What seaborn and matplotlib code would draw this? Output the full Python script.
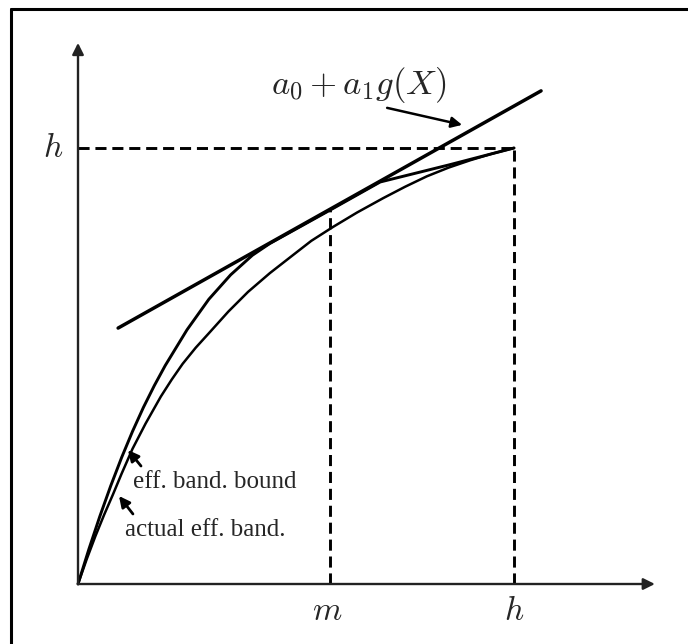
import matplotlib
matplotlib.use("Agg")
from matplotlib import pyplot as plt
from matplotlib.lines import Line2D
import seaborn as sns
import pandas as pd
import numpy as np

# values, in units of h
m_val = 0.579
h_val = 1.0

bound_x = [0, 0.025, 0.05, 0.075, 0.10, 0.125, 0.15, 0.175, 0.20, 0.25, 0.30, 0.35, 0.40, 0.44, 0.579, 0.693, 0.85, 1.0]
bound_y = [0, 0.080, 0.155, 0.225, 0.290, 0.350, 0.405, 0.455, 0.501, 0.583, 0.653, 0.709, 0.754, 0.781, 0.858, 0.922, 0.961, 1.0]

actual_x = [0, 0.02, 0.04, 0.06, 0.08, 0.10, 0.125, 0.155, 0.19, 0.215, 0.24, 0.27, 0.30, 0.345, 0.39, 0.44, 0.49,
            0.535, 0.585, 0.64, 0.70, 0.75, 0.80, 0.85, 0.90, 0.95, 1.0]
actual_y = [0, 0.057, 0.110, 0.159, 0.205, 0.253, 0.310, 0.368, 0.430, 0.469, 0.505, 0.542, 0.575, 0.625, 0.670,
            0.713, 0.752, 0.787, 0.819, 0.852, 0.885, 0.911, 0.935, 0.955, 0.972, 0.987, 1.0]

tangent_x = [0.092, 1.062]
tangent_y = [0.587, 1.131]
tangent_y_at_m = 0.858

x_axis_end = 1.323
y_axis_end = 1.241

bound = pd.DataFrame({"x": bound_x, "y": bound_y})
actual = pd.DataFrame({"x": actual_x, "y": actual_y})
tangent = pd.DataFrame({"x": tangent_x, "y": tangent_y})

sns.set_style("white")
plt.rcParams["mathtext.fontset"] = "cm"

fig = plt.figure(figsize=(6.88, 6.44), dpi=100)
ax = fig.add_axes([0, 0, 1, 1])
ax.set_xlim(-0.1789, 1.399)
ax.set_ylim(-0.1376, 1.3394)
ax.axis("off")

# curves
sns.lineplot(data=bound, x="x", y="y", sort=False, color="black", lw=2.1, ax=ax)
sns.lineplot(data=actual, x="x", y="y", sort=False, color="black", lw=1.8, ax=ax)
sns.lineplot(data=tangent, x="x", y="y", sort=False, color="black", lw=2.5, ax=ax)

# dashed guides
dash = dict(color="black", lw=2.1, linestyle=(0, (3.8, 2.0)))
ax.plot([0, h_val], [h_val, h_val], **dash)
ax.plot([h_val, h_val], [0, h_val], **dash)
ax.plot([m_val, m_val], [0, tangent_y_at_m], **dash)

# axes with arrow heads
ax.annotate("", xy=(x_axis_end, 0), xytext=(0, 0),
            arrowprops=dict(arrowstyle="-|>", lw=1.7, color="#222222", mutation_scale=17, shrinkA=0, shrinkB=0))
ax.annotate("", xy=(0, y_axis_end), xytext=(0, 0),
            arrowprops=dict(arrowstyle="-|>", lw=1.7, color="#222222", mutation_scale=17, shrinkA=0, shrinkB=0))

# labels
ax.text(m_val - 0.008, -0.06, "$m$", fontsize=24, ha="center", va="center")
ax.text(h_val, -0.06, "$h$", fontsize=24, ha="center", va="center")
ax.text(-0.057, h_val, "$h$", fontsize=24, ha="center", va="center")

ax.text(0.644, 1.144, "$a_0 + a_1 g(X)$", fontsize=25, ha="center", va="center")
ax.annotate("", xy=(0.881, 1.053), xytext=(0.709, 1.092),
            arrowprops=dict(arrowstyle="-|>", lw=1.8, color="black", mutation_scale=16, shrinkA=0, shrinkB=0))

serif = ["Liberation Serif", "DejaVu Serif"]
ax.text(0.126, 0.234, "eff. band. bound", fontsize=18, family=serif, ha="left", va="center")
ax.text(0.108, 0.124, "actual eff. band.", fontsize=18, family=serif, ha="left", va="center")
ax.annotate("", xy=(0.1147, 0.3073), xytext=(0.1445, 0.2706),
            arrowprops=dict(arrowstyle="-|>", lw=2.0, color="black", mutation_scale=16, shrinkA=0, shrinkB=0))
ax.annotate("", xy=(0.094, 0.2018), xytext=(0.126, 0.1606),
            arrowprops=dict(arrowstyle="-|>", lw=2.0, color="black", mutation_scale=16, shrinkA=0, shrinkB=0))

# frame (top and left edges only)
fig.add_artist(Line2D([0.0153, 1.0], [0.986, 0.986], transform=fig.transFigure, color="black", lw=2.2))
fig.add_artist(Line2D([0.0153, 0.0153], [0.0, 0.986], transform=fig.transFigure, color="black", lw=2.2))

plt.savefig("out.png", dpi=100)
